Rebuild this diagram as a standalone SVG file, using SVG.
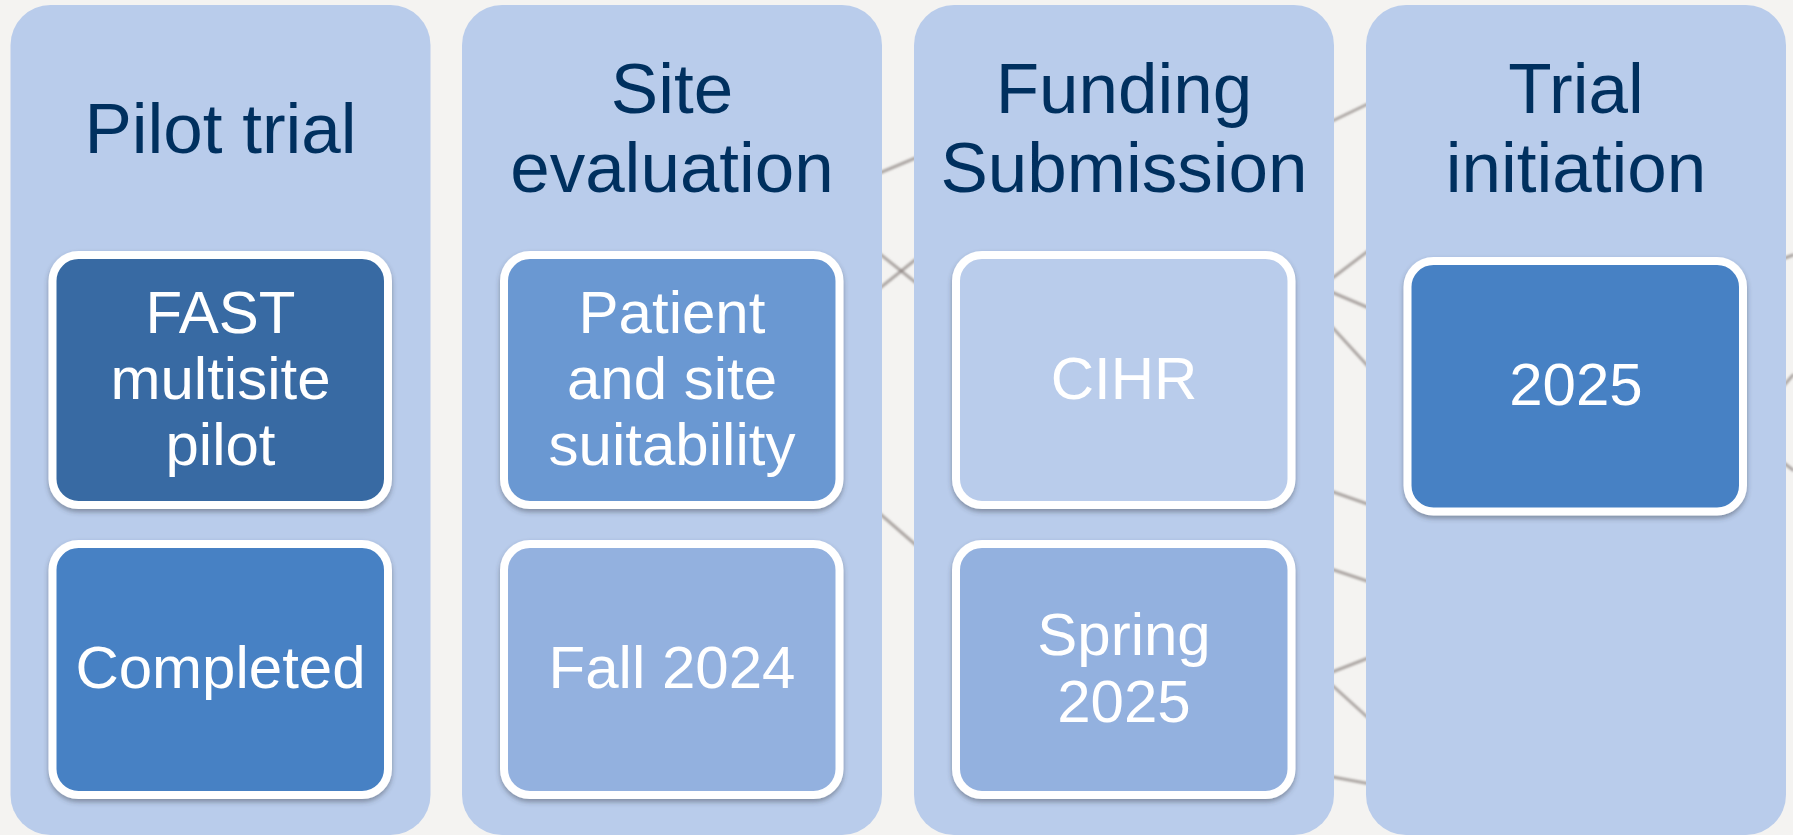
<svg xmlns="http://www.w3.org/2000/svg" width="1793" height="835" viewBox="0 0 1793 835">
  <style>
    .col { fill: #b9cceb; }
    .title { font-family: "Liberation Sans", Arial, sans-serif; font-size: 71px; fill: #00305f; text-anchor: middle; }
    .box { stroke: #ffffff; stroke-width: 8; filter: url(#shadow); }
    .lbl { font-family: "Liberation Sans", Arial, sans-serif; font-size: 60px; fill: #ffffff; text-anchor: middle; }
    .bg line { stroke: #857d79; stroke-width: 3; stroke-opacity: 0.65; stroke-linecap: round; }
  </style>
  <defs>
    <filter id="shadow" x="-10%" y="-10%" width="120%" height="125%">
      <feDropShadow dx="0" dy="3" stdDeviation="2.5" flood-color="#3a3f4a" flood-opacity="0.45"/>
    </filter>
    <filter id="blur" x="-5%" y="-5%" width="110%" height="110%">
      <feGaussianBlur stdDeviation="1.2"/>
    </filter>
  </defs>

  <rect x="0" y="0" width="1793" height="835" fill="#f4f3f1"/>

  <g class="bg" filter="url(#blur)">
    <line x1="870" y1="177" x2="925" y2="154"/>
    <line x1="870" y1="246" x2="925" y2="290"/>
    <line x1="870" y1="296" x2="925" y2="252"/>
    <line x1="870" y1="505" x2="925" y2="553"/>
    <line x1="1322" y1="126" x2="1376" y2="100"/>
    <line x1="1322" y1="286" x2="1376" y2="245"/>
    <line x1="1322" y1="288" x2="1376" y2="311"/>
    <line x1="1322" y1="316" x2="1376" y2="375"/>
    <line x1="1322" y1="488" x2="1376" y2="507"/>
    <line x1="1322" y1="566" x2="1376" y2="584"/>
    <line x1="1322" y1="676" x2="1376" y2="655"/>
    <line x1="1322" y1="676" x2="1376" y2="725"/>
    <line x1="1322" y1="775" x2="1376" y2="785"/>
    <line x1="1780" y1="260" x2="1793" y2="255"/>
    <line x1="1780" y1="390" x2="1793" y2="375"/>
    <line x1="1780" y1="460" x2="1793" y2="470"/>
  </g>

  <g id="col-pilot">
    <rect class="col" x="10.5" y="5" width="420" height="830" rx="40"/>
    <text class="title" x="220.5" y="152.5">Pilot trial</text>
  </g>
  <g id="box-fast">
    <rect class="box" x="52.5" y="255" width="335.5" height="250" rx="26" fill="#376ba3"/>
    <text class="lbl" x="220.5" y="333">FAST</text>
    <text class="lbl" x="220.5" y="399">multisite</text>
    <text class="lbl" x="220.5" y="465">pilot</text>
  </g>
  <g id="box-completed">
    <rect class="box" x="52.5" y="544" width="335.5" height="251" rx="26" fill="#4681c4"/>
    <text class="lbl" x="220.5" y="688">Completed</text>
  </g>

  <g id="col-site">
    <rect class="col" x="462" y="5" width="420" height="830" rx="40"/>
    <text class="title" x="672" y="113">Site</text>
    <text class="title" x="672" y="191.5">evaluation</text>
  </g>
  <g id="box-patient">
    <rect class="box" x="504" y="255" width="335.5" height="250" rx="26" fill="#6b98d2"/>
    <text class="lbl" x="672" y="333">Patient</text>
    <text class="lbl" x="672" y="399">and site</text>
    <text class="lbl" x="672" y="465">suitability</text>
  </g>
  <g id="box-fall">
    <rect class="box" x="504" y="544" width="335.5" height="251" rx="26" fill="#93b1df"/>
    <text class="lbl" x="672" y="688">Fall 2024</text>
  </g>

  <g id="col-funding">
    <rect class="col" x="914" y="5" width="420" height="830" rx="40"/>
    <text class="title" x="1124" y="113">Funding</text>
    <text class="title" x="1124" y="191.5">Submission</text>
  </g>
  <g id="box-cihr">
    <rect class="box" x="956" y="255" width="335.5" height="250" rx="26" fill="#b9cceb"/>
    <text class="lbl" x="1124" y="399">CIHR</text>
  </g>
  <g id="box-spring">
    <rect class="box" x="956" y="544" width="335.5" height="251" rx="26" fill="#93b1df"/>
    <text class="lbl" x="1124" y="655">Spring</text>
    <text class="lbl" x="1124" y="721.5">2025</text>
  </g>

  <g id="col-trial">
    <rect class="col" x="1366" y="5" width="420" height="830" rx="40"/>
    <text class="title" x="1576" y="113">Trial</text>
    <text class="title" x="1576" y="191.5">initiation</text>
  </g>
  <g id="box-2025">
    <rect class="box" x="1407.5" y="261" width="335.5" height="250.5" rx="26" fill="#4681c4"/>
    <text class="lbl" x="1576" y="405">2025</text>
  </g>
</svg>
